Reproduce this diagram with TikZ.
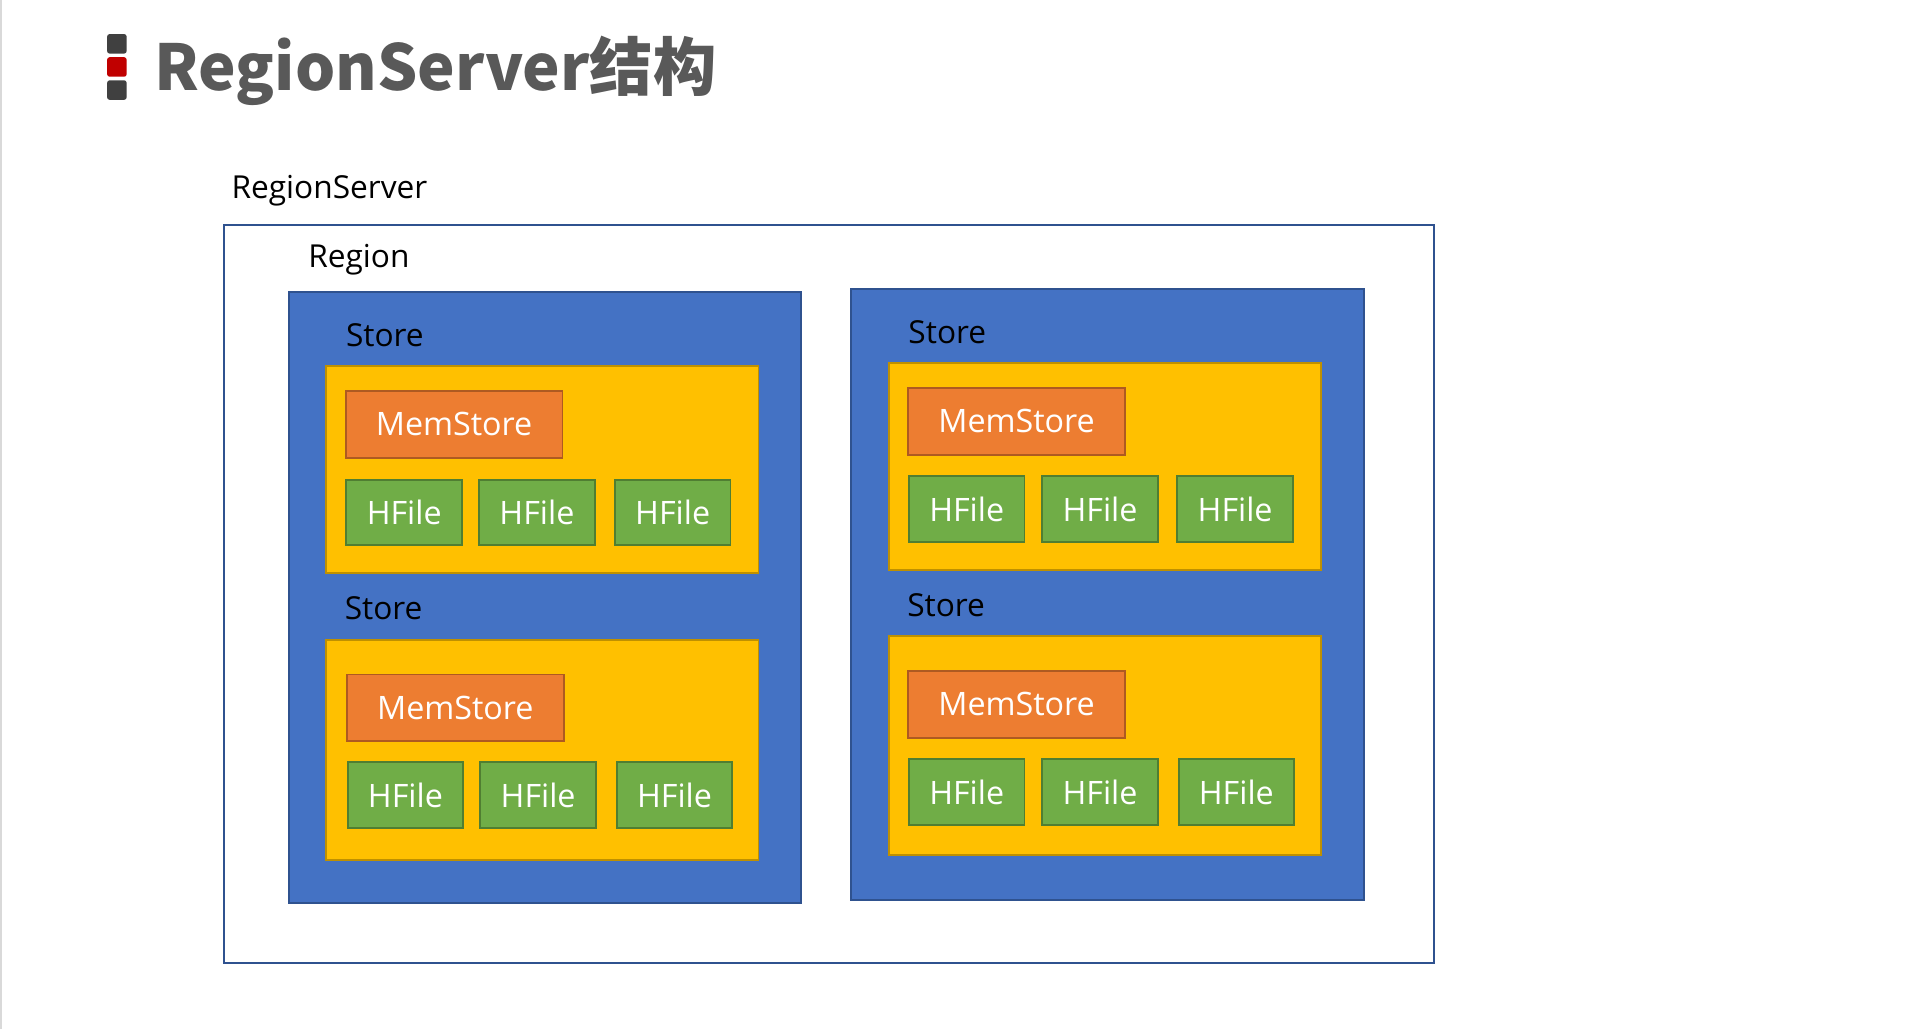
\documentclass[tikz,border=0pt]{standalone}
\usepackage{fontspec}
\setmainfont{Open Sans}
\newfontfamily\cjk{Noto Sans CJK SC}
\definecolor{titlegray}{HTML}{595959}
\definecolor{bulletdark}{HTML}{404040}
\definecolor{bulletred}{HTML}{C00000}
\definecolor{regfill}{HTML}{4472C4}
\definecolor{regline}{HTML}{2F528F}
\definecolor{storefill}{HTML}{FFC000}
\definecolor{storeline}{HTML}{BF9000}
\definecolor{memfill}{HTML}{ED7D31}
\definecolor{memline}{HTML}{AE5A21}
\definecolor{hfill}{HTML}{70AD47}
\definecolor{hline}{HTML}{507E32}
\definecolor{edgegray}{HTML}{D9D9D9}
\tikzset{
  base/.style={rectangle, inner sep=0pt, line width=1.6pt},
  serverbox/.style={base, draw=regline, fill=white, minimum width=994pt, minimum height=606pt},
  regionbox/.style={base, draw=regline, fill=regfill, minimum width=421pt, minimum height=502pt},
  storebox/.style={base, draw=storeline, fill=storefill, minimum width=355pt},
  membox/.style={base, draw=memline, fill=memfill, minimum width=178pt, minimum height=55pt, text=white, font=\fontsize{26.5}{30}\selectfont},
  hfilebox/.style={base, draw=hline, fill=hfill, minimum width=95pt, minimum height=54pt, text=white, font=\fontsize{26.5}{30}\selectfont},
  lbl/.style={anchor=base west, inner sep=0pt, text=black, font=\fontsize{26}{30}\selectfont},
  bulletsq/.style={rectangle, rounded corners=2pt, minimum width=16pt, minimum height=16pt, inner sep=0pt},
}
\begin{document}
\begin{tikzpicture}[x=1pt,y=-1pt]
\fill[white] (0,0) rectangle (1568,845);
\useasboundingbox (0,0) rectangle (1568,845);
\draw[edgegray, line width=2pt] (1,0) -- (1,845);
% title
\node[bulletsq, fill=bulletdark] (b1) at (96,36) {};
\node[bulletsq, fill=bulletred] (b2) at (96,55) {};
\node[bulletsq, fill=bulletdark] (b3) at (96,74) {};
\node[anchor=base west, inner sep=0pt, text=titlegray, font=\cjk\bfseries\fontsize{52}{60}\selectfont] (title) at (127,74) {RegionServer结构};
% server
\node[lbl] (serverlbl) at (190,163) {RegionServer};
\node[serverbox] (server) at (681,488) {};
\node[lbl] (regionlbl) at (253,220) {Region};
% regions
\node[regionbox] (regL) at (447.5,491) {};
\node[regionbox] (regR) at (909.5,488) {};
% left region
\node[lbl] (sL1) at (284,285) {Store};
\node[storebox, minimum height=170pt] (stL1) at (445.5,386) {};
\node[membox] (mL1) at (373,348.5) {MemStore};
\node[hfilebox] (hL1a) at (332,421) {HFile};
\node[hfilebox] (hL1b) at (441,421) {HFile};
\node[hfilebox] (hL1c) at (552.5,421) {HFile};
\node[lbl] (sL2) at (283,509) {Store};
\node[storebox, minimum height=180pt] (stL2) at (445.5,616) {};
\node[membox] (mL2) at (374,581.5) {MemStore};
\node[hfilebox] (hL2a) at (333,653) {HFile};
\node[hfilebox] (hL2b) at (442,653) {HFile};
\node[hfilebox] (hL2c) at (554,653) {HFile};
% right region
\node[lbl] (sR1) at (746,282) {Store};
\node[storebox, minimum height=170pt] (stR1) at (907.5,383) {};
\node[membox] (mR1) at (835,346) {MemStore};
\node[hfilebox] (hR1a) at (794,418) {HFile};
\node[hfilebox] (hR1b) at (903.5,418) {HFile};
\node[hfilebox] (hR1c) at (1014.5,418) {HFile};
\node[lbl] (sR2) at (745,506) {Store};
\node[storebox, minimum height=180pt] (stR2) at (907.5,612) {};
\node[membox] (mR2) at (835,578.5) {MemStore};
\node[hfilebox] (hR2a) at (794,650.5) {HFile};
\node[hfilebox] (hR2b) at (903.5,650.5) {HFile};
\node[hfilebox] (hR2c) at (1015.5,650.5) {HFile};
\end{tikzpicture}
\end{document}
